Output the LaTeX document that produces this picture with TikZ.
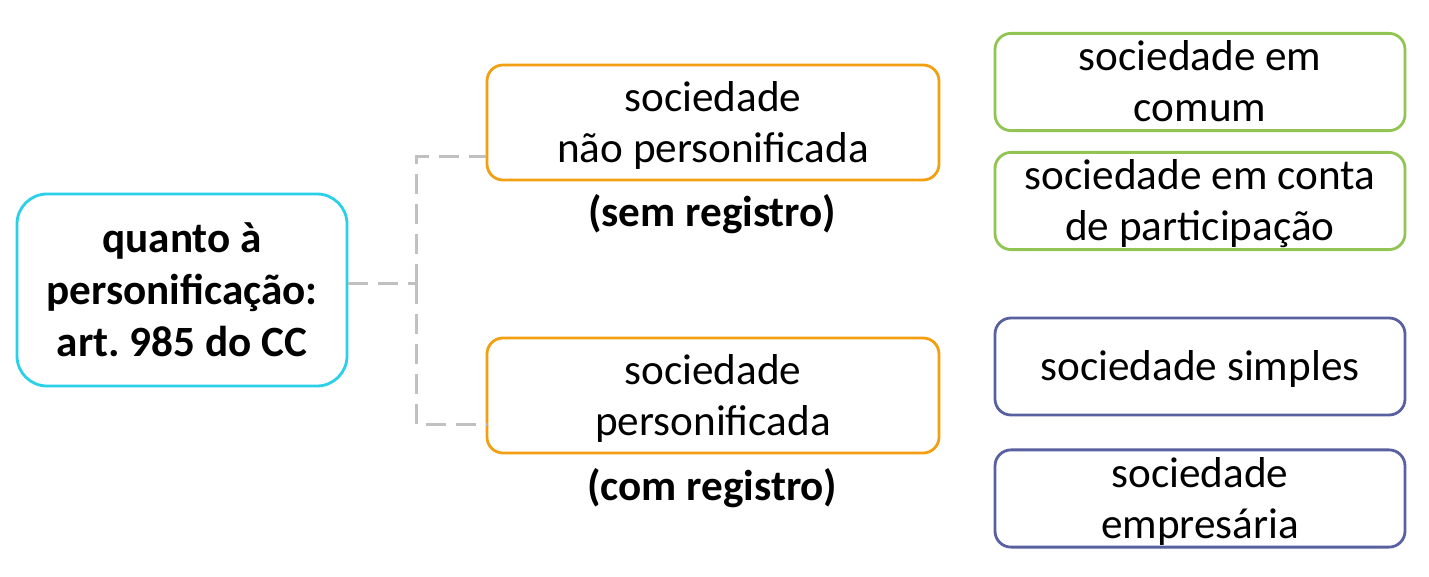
\documentclass[tikz,border=0pt]{standalone}
\usepackage{fontspec}
\setmainfont{Carlito}
\frenchspacing
\definecolor{ciano}{RGB}{41,208,232}
\definecolor{laranja}{RGB}{242,159,18}
\definecolor{verde}{RGB}{146,196,84}
\definecolor{azul}{RGB}{88,96,160}
\definecolor{cinza}{RGB}{192,192,192}
\newcommand{\topo}{\rule{0pt}{0.87em}}
\newcommand{\fundo}{\rule[-0.2em]{0pt}{0pt}}
\begin{document}
\begin{tikzpicture}[x=0.5pt, y=-0.5pt,
    caixa/.style={draw, line width=1.4pt, rounded corners=8pt, inner sep=0pt,
        align=center, font=\fontsize{21.6}{25.5}\selectfont},
    raiz/.style={caixa, draw=ciano, rounded corners=15pt, minimum width=165pt,
        minimum height=96pt, font=\fontsize{21.6}{26}\selectfont\bfseries},
    ramo/.style={caixa, draw=laranja, minimum width=226pt, minimum height=57.5pt},
    folhaverde/.style={caixa, draw=verde, minimum width=205pt, minimum height=48.5pt},
    folhaazul/.style={caixa, draw=azul, minimum width=205pt, minimum height=48.5pt},
    rotulo/.style={font=\fontsize{21.6}{25.5}\selectfont\bfseries, inner sep=0pt},
    conn/.style={draw=cinza, line width=1.5pt, dash pattern=on 10pt off 5pt}]
    \useasboundingbox (0,0) rectangle (1429,577);

    % Raiz
    \node[raiz] (quanto) at (182,290) {quanto à\\personificação:\\art. 985 do CC};

    % Ramos
    \node[ramo] (naopers) at (713,122.5) {\topo sociedade\\não personificada\fundo};
    \node[rotulo] (semreg) at (712,214) {(sem registro)};
    \node[ramo] (pers) at (713,395.5) {\topo sociedade\\personificada\fundo};
    \node[rotulo] (comreg) at (712,488) {(com registro)};

    % Folhas
    \node[folhaverde] (comum) at (1200,82) {\topo sociedade em\\comum\fundo};
    \node[folhaverde] (conta) at (1200,201) {\topo sociedade em conta\\de participação\fundo};
    \node[folhaazul] (simples) at (1200,366.5) {\topo sociedade simples\fundo};
    \node[folhaazul] (empresaria) at (1200,498.5) {\topo sociedade\\empresária\fundo};

    % Ligações
    \coordinate (fork) at (416,284);
    \draw[conn] (quanto.east |- fork) -- (fork);
    \draw[conn] (fork) |- ([yshift=-17pt]naopers.west);
    \draw[conn] (fork) |- ([yshift=-14.5pt]pers.west);
\end{tikzpicture}
\end{document}
